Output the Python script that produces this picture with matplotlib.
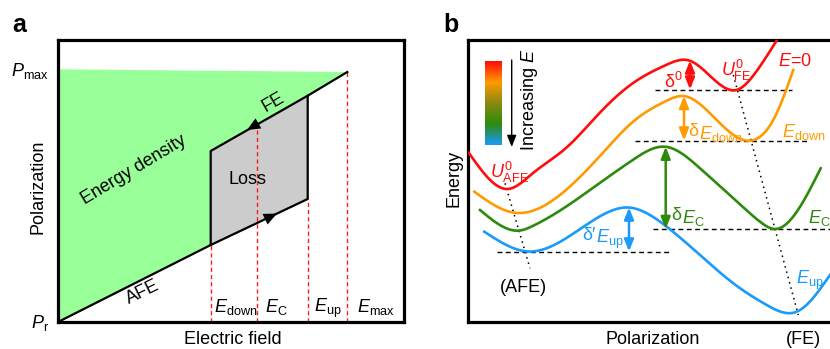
import numpy as np
import matplotlib
matplotlib.use("Agg")
import matplotlib.pyplot as plt
from matplotlib.colors import LinearSegmentedColormap

plt.rcParams['font.family'] = ['Liberation Sans', 'DejaVu Sans']
plt.rcParams['mathtext.fontset'] = 'custom'
plt.rcParams['mathtext.rm'] = 'Liberation Sans'
plt.rcParams['mathtext.it'] = 'Liberation Sans:italic'
plt.rcParams['mathtext.bf'] = 'Liberation Sans:bold'

# ---- panel a: schematic P-E loop (arbitrary units) ----
E_down, E_c, E_up, E_max = 152.7, 199.3, 249.7, 289.3
P_afe_switch = 77.0      # P at E_down on the AFE branch
P_loss_low = 123.0       # P at E_up on the lower branch
P_fe_low = 171.0         # P at E_down on the FE branch
P_loss_high = 226.3      # P at E_up on the FE branch
P_max = 250.0
P_max_left = 252.7

# ---- panel b: energy landscapes ----
pol_red = [0.7, 40, 64.7, 98, 131.3, 164.7, 198, 221, 270, 287, 309]
en_red = [169.3, 133, 148.7, 174, 208.7, 238.7, 257, 261.5, 232.5, 248.7, 282]
pol_orange = [6.3, 45, 98, 131.3, 164.7, 198, 215, 248.7, 283.7, 307, 325.3]
en_orange = [130.3, 109.5, 132, 165.3, 200, 221, 226, 202, 181.5, 205.3, 252]
pol_green = [12, 52, 64.7, 98, 131.3, 164.7, 197, 232, 265.3, 292, 307, 352.7]
en_green = [112, 91.5, 96, 115.3, 138.7, 162, 175.3, 153.7, 123.7, 100.3, 93, 153.7]
pol_blue = [16.3, 60, 98, 131.3, 160, 198.7, 232, 265.3, 298.7, 328.7, 362]
en_blue = [90.3, 70.5, 83.7, 105.3, 114.5, 95.3, 67, 38.7, 17, 10.3, 47]

RED, ORANGE, GREEN, BLUE = '#FF0D0D', '#FF9A00', '#2E8A0C', '#1A9AFA'


def smooth(x, y, n=400):
    # natural cubic spline through the read points
    x = np.asarray(x, float)
    y = np.asarray(y, float)
    k = len(x)
    h = np.diff(x)
    A = np.zeros((k, k))
    b = np.zeros(k)
    A[0, 0] = A[-1, -1] = 1
    for i in range(1, k - 1):
        A[i, i - 1] = h[i - 1]
        A[i, i] = 2 * (h[i - 1] + h[i])
        A[i, i + 1] = h[i]
        b[i] = 3 * ((y[i + 1] - y[i]) / h[i] - (y[i] - y[i - 1]) / h[i - 1])
    c = np.linalg.solve(A, b)
    bb = np.diff(y) / h - h * (2 * c[:-1] + c[1:]) / 3
    d = np.diff(c) / (3 * h)
    xs = np.linspace(x[0], x[-1], n)
    idx = np.clip(np.searchsorted(x, xs) - 1, 0, k - 2)
    t = xs - x[idx]
    ys = y[idx] + bb[idx] * t + c[idx] * t**2 + d[idx] * t**3
    return xs, ys


fig = plt.figure(figsize=(8.3, 3.49), dpi=100)
fs = 13

# ================= panel a =================
ax = fig.add_axes([58 / 830, 27 / 349, 346 / 830, 282 / 349])
ax.set_xlim(0, 346)
ax.set_ylim(0, 282)
ax.set_xticks([])
ax.set_yticks([])
for s in ax.spines.values():
    s.set_linewidth(2.3)

fe_slope = (P_max - P_fe_low) / (E_max - E_down)
low_slope = (P_loss_low - P_afe_switch) / (E_up - E_down)

# energy density (green) and loss (grey)
ax.fill([0, E_down, E_down, E_max, 0], [0, P_afe_switch, P_fe_low, P_max, P_max_left],
        color='#99FF99', lw=0, zorder=1)
ax.fill([E_down, E_up, E_up, E_down], [P_afe_switch, P_loss_low, P_loss_high, P_fe_low],
        color='#CCCCCC', lw=0, zorder=1)

# dashed field markers
P_c = P_fe_low + fe_slope * (E_c - E_down)
for e, top in [(E_down, P_afe_switch), (E_c, P_c), (E_up, P_loss_low), (E_max, P_max)]:
    ax.plot([e, e], [0, top], color='#FF1A1A', lw=1.0, ls=(0, (3, 2.2)), zorder=2)

# loop
ax.plot([0, E_down, E_up, E_up, E_max], [0, P_afe_switch, P_loss_low, P_loss_high, P_max],
        color='k', lw=1.6, zorder=3)
ax.plot([E_down, E_down, E_up], [P_afe_switch, P_fe_low, P_loss_high], color='k', lw=1.6, zorder=3)

# direction arrows
head = dict(arrowstyle='-|>,head_length=0.95,head_width=0.42', color='k', lw=0,
            shrinkA=0, shrinkB=0)
xa = 189
ax.annotate('', xy=(xa, P_fe_low + fe_slope * (xa - E_down)),
            xytext=(xa + 30, P_fe_low + fe_slope * (xa + 30 - E_down)),
            arrowprops=head, zorder=4)
xb = 219
ax.annotate('', xy=(xb, P_afe_switch + low_slope * (xb - E_down)),
            xytext=(xb - 30, P_afe_switch + low_slope * (xb - 30 - E_down)),
            arrowprops=head, zorder=4)

ax.text(76, 152, 'Energy density', fontsize=fs, rotation=31, ha='center', va='center',
        rotation_mode='anchor')
ax.text(215, 220, 'FE', fontsize=fs, rotation=30, ha='center', va='center', rotation_mode='anchor')
ax.text(85, 30, 'AFE', fontsize=fs, rotation=26, ha='center', va='center', rotation_mode='anchor')
ax.text(189, 143, 'Loss', fontsize=fs, ha='center', va='center')
ax.text(155.5, 10, r'$E_{\rm down}$', fontsize=fs, va='baseline')
ax.text(207, 10, r'$E_{\rm C}$', fontsize=fs, va='baseline')
ax.text(255.5, 10, r'$E_{\rm up}$', fontsize=fs, va='baseline')
ax.text(298.5, 10, r'$E_{\rm max}$', fontsize=fs, va='baseline')
ax.text(-9, 246, r'$P_{\rm max}$', fontsize=fs, ha='right', va='baseline')
ax.text(-9, -6, r'$P_{\rm r}$', fontsize=fs, ha='right', va='baseline')
ax.text(-20, 135, 'Polarization', fontsize=fs, rotation=90, ha='center', va='center')
ax.text(175, -17, 'Electric field', fontsize=fs, ha='center', va='center')

# ================= panel b =================
bx = fig.add_axes([468 / 830, 27 / 349, 364 / 830, 282 / 349])
bx.set_xticks([])
bx.set_yticks([])
for s in bx.spines.values():
    s.set_linewidth(2.3)

curves = [(pol_red, en_red, RED), (pol_orange, en_orange, ORANGE),
          (pol_green, en_green, GREEN), (pol_blue, en_blue, BLUE)]
for px_, en_, c in curves:
    xs, ys = smooth(px_, en_)
    bx.plot(xs, ys, color=c, lw=1.9, zorder=3)

# reference levels (dashed)
dash = dict(color='k', lw=1.0, ls=(0, (3.5, 2.5)), zorder=2)
bx.plot([187, 323.7], [en_red[8]] * 2, **dash)
bx.plot([167, 338.7], [en_orange[8]] * 2, **dash)
bx.plot([185.3, 364], [en_green[10]] * 2, **dash)
bx.plot([28.7, 201.3], [en_blue[1]] * 2, **dash)

# dotted lines through the minima
dot = dict(color='k', lw=1.1, ls=(0, (1, 2.6)), zorder=2)
bx.plot([37, 62], [138.7, 53.7], **dot)
bx.plot([265.3, 330.3], [247, 7], **dot)

# barrier arrows
barriers = [(pol_red[7] + 1, en_red[7], en_red[8], RED),
            (pol_orange[6] + 1, en_orange[6], en_orange[8], ORANGE),
            (pol_green[6] + 0.7, en_green[6], en_green[10], GREEN),
            (pol_blue[4] + 1, en_blue[4], en_blue[1], BLUE)]
for x0, ytop, ybot, c in barriers:
    bx.annotate('', xy=(x0, ytop), xytext=(x0, ybot),
                arrowprops=dict(arrowstyle='<|-|>,head_length=0.7,head_width=0.28',
                                color=c, lw=1.8, shrinkA=0, shrinkB=0), zorder=4)

bx.text(205, 240, r'δ$^0$', fontsize=fs, color=RED, ha='center', va='center')
bx.text(220, 191, 'δ', fontsize=fs, color=ORANGE, va='center')
bx.text(231, 188, r'$E_{\rm down}$', fontsize=fs, color=ORANGE, va='center')
bx.text(203, 107, 'δ', fontsize=fs, color=GREEN, va='center')
bx.text(214, 104, r'$E_{\rm C}$', fontsize=fs, color=GREEN, va='center')
bx.text(114, 86, 'δ′', fontsize=fs, color=BLUE, va='center')
bx.text(128.5, 83, r'$E_{\rm up}$', fontsize=fs, color=BLUE, va='center')
bx.text(253, 252, r'$U^{0}_{\rm FE}$', fontsize=fs, color=RED, va='center')
bx.text(310, 261, r'$E$=0', fontsize=fs, color=RED, va='center')
bx.text(314, 190, r'$E_{\rm down}$', fontsize=fs, color=ORANGE, va='center')
bx.text(340, 104, r'$E_{\rm C}$', fontsize=fs, color=GREEN, va='center')
bx.text(328.5, 42, r'$E_{\rm up}$', fontsize=fs, color=BLUE, va='center')
bx.text(22, 150, r'$U^{0}_{\rm AFE}$', fontsize=fs, color=RED, va='center')
bx.text(55, 35, '(AFE)', fontsize=fs, ha='center', va='center')
bx.text(335, -18, '(FE)', fontsize=fs, ha='center', va='center')
bx.text(185, -18, 'Polarization', fontsize=fs, ha='center', va='center')
bx.text(-14.5, 144, 'Energy', fontsize=fs, rotation=90, ha='center', va='center')

# field colour bar
cmap = LinearSegmentedColormap.from_list('field', [BLUE, GREEN, '#8A8A10', ORANGE, RED])
bx.imshow(np.linspace(0, 1, 100).reshape(-1, 1), cmap=cmap, origin='lower',
          extent=[17, 33.7, 177, 261], aspect='auto', zorder=3)
bx.annotate('', xy=(43.7, 175), xytext=(43.7, 262),
            arrowprops=dict(arrowstyle='-|>,head_length=0.7,head_width=0.28', color='k', lw=1.0,
                            shrinkA=0, shrinkB=0))
bx.text(61, 222, r'Increasing $E$', fontsize=fs, rotation=90, ha='center', va='center')
bx.set_xlim(0, 364)
bx.set_ylim(0, 282)

fig.text(12 / 830, 1 - 32 / 349, 'a', fontsize=18, fontweight='bold', va='baseline')
fig.text(443 / 830, 1 - 32 / 349, 'b', fontsize=18, fontweight='bold', va='baseline')

fig.savefig('out.png', dpi=100)
